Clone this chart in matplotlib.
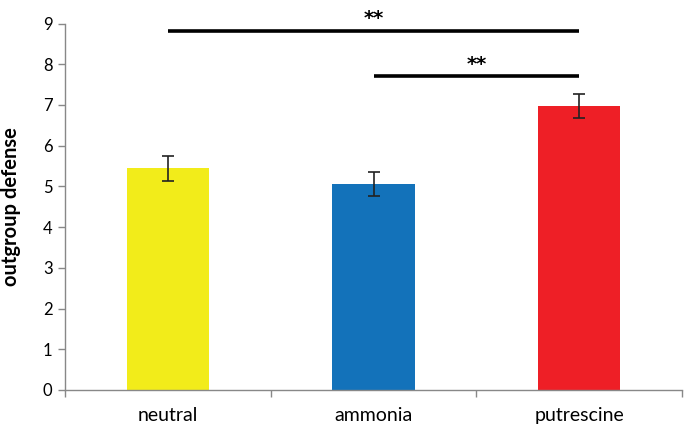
import matplotlib.pyplot as plt
import numpy as np

plt.rcParams['font.family'] = ['Lato', 'DejaVu Sans']

categories = ['neutral', 'ammonia', 'putrescine']
means = [5.44, 5.06, 6.98]
errors = [0.30, 0.30, 0.29]
colors = ['#F2EC1A', '#1372BA', '#EE1F26']

# significance brackets: (start index, end index, height)
sig_pairs = [(0, 2, 8.82), (1, 2, 7.70)]
sig_labels = ['**', '**']

fig = plt.figure(figsize=(6.85, 4.26), dpi=100)
ax = fig.add_axes([65 / 685, 1 - 390 / 426, 617 / 685, 366.5 / 426])

x = np.arange(len(categories))
ax.bar(x, means, width=0.4, color=colors, zorder=2)
ax.errorbar(x, means, yerr=errors, fmt='none', ecolor='#222222',
            elinewidth=1.2, capsize=4, capthick=1.2, zorder=3)

for (i, j, h), lab in zip(sig_pairs, sig_labels):
    ax.plot([x[i], x[j]], [h, h], color='black', linewidth=2.6,
            solid_capstyle='butt', clip_on=False, zorder=4)
    ax.text((x[i] + x[j]) / 2, h + 0.30, lab, ha='center', va='center',
            fontsize=14, fontweight='bold', family='DejaVu Sans', clip_on=False)

ax.set_xlim(-0.5, 2.5)
ax.set_ylim(0, 9)
ax.set_yticks(range(0, 10))
ax.set_xticks(x)
ax.set_xticklabels(categories)
ax.set_xticks([-0.5, 0.5, 1.5, 2.5], minor=True)
ax.tick_params(axis='x', which='major', length=0, pad=12, labelsize=14)
ax.tick_params(axis='x', which='minor', length=5, color='#888888', width=1)
ax.tick_params(axis='y', length=5, color='#888888', width=1, labelsize=12, pad=4)

for side in ['top', 'right']:
    ax.spines[side].set_visible(False)
for side in ['left', 'bottom']:
    ax.spines[side].set_color('#888888')
    ax.spines[side].set_linewidth(1)

ax.set_ylabel('outgroup defense', fontsize=14.5, fontweight='bold', va='center')
ax.yaxis.set_label_coords(-54 / 617, 0.5)

fig.savefig('out.png', dpi=100)
